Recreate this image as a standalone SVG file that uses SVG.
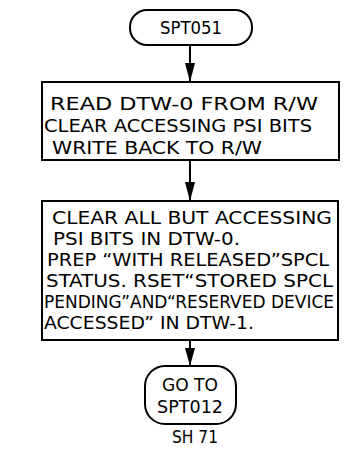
<svg xmlns="http://www.w3.org/2000/svg" width="360" height="465" viewBox="0 0 360 465">
<style>
.shape{fill:#fff;stroke:#000;stroke-width:2}
.t{font-family:"Liberation Sans Narrow","DejaVu Sans Condensed","Liberation Sans",Arial,sans-serif;font-size:18px;fill:#000}
.c{text-anchor:middle}
.conn{stroke:#000;stroke-width:2;fill:none}
.head{fill:#000}
</style>
<rect width="360" height="465" fill="#fff"/>
<g id="connectors">
<line class="conn" x1="190" y1="45" x2="190" y2="82"/>
<path class="head" d="M185,63 L195,63 L190,82 Z"/>
<line class="conn" x1="190" y1="160" x2="190" y2="201"/>
<path class="head" d="M185,182 L195,182 L190,201 Z"/>
<line class="conn" x1="190" y1="340" x2="190" y2="366"/>
<path class="head" d="M185,348 L195,348 L190,366 Z"/>
</g>
<g id="start">
<rect class="shape" x="130" y="10" width="122" height="35" rx="17"/>
<text class="t c" x="191" y="34" textLength="62" lengthAdjust="spacingAndGlyphs">SPT051</text>
</g>
<g id="box1">
<rect class="shape" x="42" y="82" width="297" height="78"/>
<text class="t" x="50" y="110" textLength="268" lengthAdjust="spacingAndGlyphs">READ DTW-0  FROM  R/W</text>
<text class="t" x="44" y="132" textLength="268" lengthAdjust="spacingAndGlyphs">CLEAR ACCESSING PSI BITS</text>
<text class="t" x="52" y="154" textLength="210" lengthAdjust="spacingAndGlyphs">WRITE BACK TO R/W</text>
</g>
<g id="box2">
<rect class="shape" x="42" y="201" width="296" height="139"/>
<text class="t" x="52" y="224" textLength="280" lengthAdjust="spacingAndGlyphs">CLEAR ALL BUT ACCESSING</text>
<text class="t" x="53" y="245" textLength="187" lengthAdjust="spacingAndGlyphs">PSI BITS IN DTW-0.</text>
<text class="t" x="47" y="266" textLength="282" lengthAdjust="spacingAndGlyphs">PREP “WITH RELEASED”SPCL</text>
<text class="t" x="46" y="287" textLength="287" lengthAdjust="spacingAndGlyphs">STATUS. RSET“STORED SPCL</text>
<text class="t" x="44" y="308" textLength="290" lengthAdjust="spacingAndGlyphs">PENDING”AND“RESERVED DEVICE</text>
<text class="t" x="44" y="329" textLength="210" lengthAdjust="spacingAndGlyphs">ACCESSED” IN DTW-1.</text>
</g>
<g id="end">
<rect class="shape" x="145" y="366" width="91" height="58" rx="20"/>
<text class="t c" x="190" y="391" textLength="56" lengthAdjust="spacingAndGlyphs">GO TO</text>
<text class="t c" x="190" y="413" textLength="66" lengthAdjust="spacingAndGlyphs">SPT012</text>
</g>
<g id="sheet">
<text class="t" x="172" y="443" textLength="46" lengthAdjust="spacingAndGlyphs">SH 71</text>
</g>
</svg>
